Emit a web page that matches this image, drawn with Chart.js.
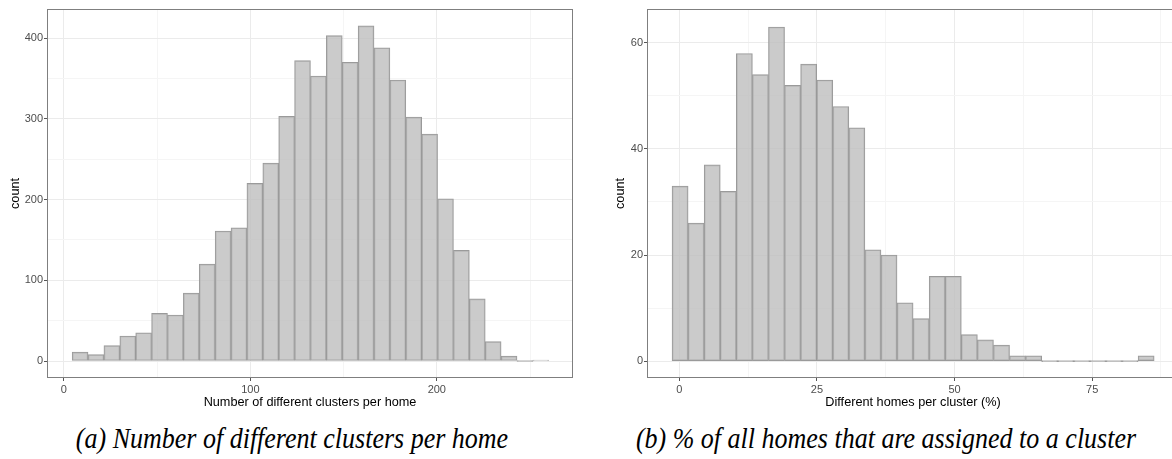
<!DOCTYPE html>
<html>
<head>
<meta charset="utf-8">
<script src="https://cdn.jsdelivr.net/npm/chart.js@4/dist/chart.umd.min.js"></script>
<style>
  body { margin: 0; background: #fff; width: 1172px; height: 459px; overflow: hidden; position: relative; }
  canvas { position: absolute; top: 0; }
  #homesChart { left: 0; }
  #clustersChart { left: 605px; }
  .caption {
    position: absolute; top: 426px;
    font-family: "Liberation Serif", "Times New Roman", serif;
    font-style: italic; font-size: 26px; line-height: 26px;
    white-space: nowrap; transform: translateX(-50%) scaleY(1.1); color: #000;
  }
</style>
</head>
<body>
<canvas id="homesChart" width="586" height="410"></canvas>
<canvas id="clustersChart" width="587" height="410"></canvas>
<div class="caption" style="left:292px">(a) Number of different clusters per home</div>
<div class="caption" style="left:886px">(b) % of all homes that are assigned to a cluster</div>

<script>
// (a) clusters per home: 30 bins
const homeBinStart = 4.45;
const homeBinWidth = 8.52;
const homeCounts = [11, 8, 19, 31, 35, 59, 57, 84, 120, 161, 165, 220, 245, 303, 372,
                    353, 403, 370, 415, 388, 348, 302, 281, 201, 137, 77, 24, 6, 0, 1];
const homeXTicks = [0, 50, 100, 150, 200, 250];
const homeXLabels = [0, 100, 200];
const homeYTicks = [0, 50, 100, 150, 200, 250, 300, 350, 400];
const homeYLabels = [0, 100, 200, 300, 400];

// (b) homes per cluster in %: 30 bins
const clusterBinStart = -1.33;
const clusterBinWidth = 2.92;
const clusterCounts = [33, 26, 37, 32, 58, 54, 63, 52, 56, 53, 48, 44, 21, 20, 11,
                       8, 16, 16, 5, 4, 3, 1, 1, 0, 0, 0, 0, 0, 0, 1];
const clusterXTicks = [0, 12.5, 25, 37.5, 50, 62.5, 75, 87.5];
const clusterXLabels = [0, 25, 50, 75];
const clusterYTicks = [0, 10, 20, 30, 40, 50, 60];
const clusterYLabels = [0, 20, 40, 60];

const tickFont = { family: "'Liberation Sans', Arial, sans-serif", size: 11 };
const titleFont = { family: "'Liberation Sans', Arial, sans-serif", size: 12.7 };

// frame around the plotting panel
const panelBorder = {
    id: 'panelBorder',
    afterDatasetsDraw(chart) {
        const { ctx, chartArea: a } = chart;
        ctx.save();
        ctx.strokeStyle = '#7f7f7f';
        ctx.lineWidth = 1;
        ctx.strokeRect(a.left - 0.5, a.top - 0.5, a.right - a.left + 1, a.bottom - a.top + 1);
        ctx.restore();
    }
};

function axis(ticks, labels, range, title, fitSize, horizontal) {
    return {
        type: 'linear',
        min: range[0],
        max: range[1],
        offset: false,
        afterBuildTicks: s => { s.ticks = ticks.map(v => ({ value: v })); },
        afterFit: s => {
            if (horizontal) s.height = fitSize; else s.width = fitSize;
        },
        border: { display: false },
        grid: {
            offset: false,
            lineWidth: 1,
            tickLength: 4,
            color: c => labels.includes(c.tick && c.tick.value) ? '#ebebeb' : '#f5f5f5',
            tickColor: c => labels.includes(c.tick && c.tick.value) ? '#555555' : 'rgba(0,0,0,0)',
        },
        ticks: {
            autoSkip: false,
            maxRotation: 0,
            padding: horizontal ? 2 : 1,
            color: '#4d4d4d',
            font: tickFont,
            callback: v => labels.includes(v) ? String(v) : '',
        },
        title: {
            display: true,
            text: title,
            color: '#000',
            font: titleFont,
            padding: horizontal ? { top: 0, bottom: 0 } : { top: 8, bottom: 0 },
        },
    };
}

function histogram(canvasId, binStart, binWidth, counts, xAxis, yAxis) {
    const points = counts.map((n, i) => ({ x: binStart + binWidth * (i + 0.5), y: n }));
    return new Chart(document.getElementById(canvasId), {
        type: 'bar',
        data: {
            datasets: [{
                data: points,
                backgroundColor: 'rgba(190,190,190,0.8)',
                borderColor: '#9a9a9a',
                borderWidth: 1,
                borderSkipped: false,
                minBarLength: 1,
                barPercentage: 1,
                categoryPercentage: 1,
            }],
        },
        options: {
            responsive: false,
            animation: false,
            devicePixelRatio: 1,
            layout: { padding: { top: 10, right: 14, left: 0, bottom: 0 } },
            plugins: { legend: { display: false }, tooltip: { enabled: false } },
            scales: { x: xAxis, y: yAxis },
        },
        plugins: [panelBorder],
    });
}

histogram('homesChart', homeBinStart, homeBinWidth, homeCounts,
    axis(homeXTicks, homeXLabels, [-8.5, 272.5], 'Number of different clusters per home', 33, true),
    axis(homeYTicks, homeYLabels, [-19.8, 434.7], 'count', 48, false));

histogram('clustersChart', clusterBinStart, clusterBinWidth, clusterCounts,
    axis(clusterXTicks, clusterXLabels, [-5.7, 90.6], 'Different homes per cluster (%)', 33, true),
    axis(clusterYTicks, clusterYLabels, [-3.0, 66.2], 'count', 43, false));
</script>
</body>
</html>
